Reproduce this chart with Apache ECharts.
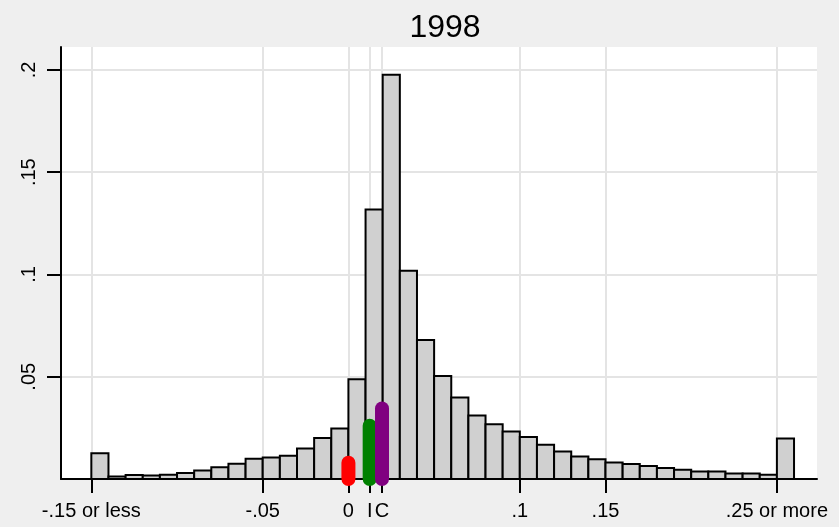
<!DOCTYPE html>
<html>
<head>
<meta charset="utf-8">
<title>1998</title>
<script src="https://cdn.jsdelivr.net/npm/echarts@6/dist/echarts.min.js"></script>
<style>
  html, body { margin: 0; padding: 0; background: #efefef; }
  #chart { width: 839px; height: 527px; }
</style>
</head>
<body>
<div id="chart"></div>
<script>
// histogram bins: lower edge of each bin, bin width, density
var binWidth = 0.01
var binLeft = [
  -0.15, -0.14, -0.13, -0.12, -0.11, -0.10, -0.09, -0.08, -0.07, -0.06,
  -0.05, -0.04, -0.03, -0.02, -0.01, 0.00, 0.01, 0.02, 0.03, 0.04,
  0.05, 0.06, 0.07, 0.08, 0.09, 0.10, 0.11, 0.12, 0.13, 0.14,
  0.15, 0.16, 0.17, 0.18, 0.19, 0.20, 0.21, 0.22, 0.23, 0.24, 0.25
]
var binHeight = [
  0.0126, 0.0012, 0.0019, 0.0017, 0.0021, 0.0029, 0.0042, 0.0057, 0.0075, 0.0099,
  0.0105, 0.0114, 0.0149, 0.0200, 0.0247, 0.0488, 0.1317, 0.1976, 0.1018, 0.0679,
  0.0504, 0.0398, 0.0310, 0.0268, 0.0232, 0.0205, 0.0167, 0.0135, 0.0110, 0.0097,
  0.0081, 0.0073, 0.0063, 0.0054, 0.0045, 0.0037, 0.0037, 0.0027, 0.0027, 0.0021, 0.0198
]

// coloured markers: 0, I, C
var markerX = [0, 0.0124, 0.0196]
var markerH = [0.008, 0.026, 0.0345]
var markerColor = ['#ff0000', '#008000', '#800080']

// axis ticks
var xTickValues = [-0.15, -0.05, 0, 0.0124, 0.0196, 0.1, 0.15, 0.25]
var xTickLabels = ['-.15 or less', '-.05', '0', 'I', 'C', '.1', '.15', '.25 or more']
var yTickValues = [0.05, 0.1, 0.15, 0.2]
var yTickLabels = ['.05', '.1', '.15', '.2']

var font = 'Liberation Sans, Arial, sans-serif'

function lookup (values, labels, v) {
  for (var i = 0; i < values.length; i++) {
    if (Math.abs(values[i] - v) < 1e-6) return labels[i]
  }
  return ''
}

var binData = binLeft.map(function (l, i) {
  return [l, l + binWidth, binHeight[i]]
})
var markerData = markerX.map(function (x, i) {
  return [x, markerH[i], i]
})

var chart = echarts.init(document.getElementById('chart'))
chart.setOption({
  backgroundColor: '#efefef',
  animation: false,
  title: {
    text: '1998',
    left: 440,
    top: 7,
    textAlign: 'center',
    textStyle: {
      color: '#000',
      fontFamily: font,
      fontSize: 32,
      fontWeight: 'normal'
    }
  },
  grid: {
    left: 61,
    right: 22,
    top: 47,
    bottom: 48,
    show: true,
    backgroundColor: '#fff',
    borderWidth: 0
  },
  xAxis: {
    type: 'value',
    min: -0.1677,
    max: 0.2734,
    axisLine: { show: true, onZero: false, lineStyle: { color: '#000', width: 2 } },
    axisTick: {
      show: true,
      length: 14,
      customValues: xTickValues,
      lineStyle: { color: '#000', width: 2 }
    },
    axisLabel: {
      customValues: xTickValues,
      margin: 22,
      color: '#000',
      fontFamily: font,
      fontSize: 20,
      formatter: function (v) { return lookup(xTickValues, xTickLabels, v) }
    },
    splitLine: { show: true, lineStyle: { color: '#e4e4e4', width: 2 } }
  },
  yAxis: {
    type: 'value',
    min: 0,
    max: 0.2112,
    axisLine: { show: true, onZero: false, lineStyle: { color: '#000', width: 2 } },
    axisTick: {
      show: true,
      length: 14,
      customValues: yTickValues,
      lineStyle: { color: '#000', width: 2 }
    },
    axisLabel: {
      customValues: yTickValues,
      rotate: 90,
      margin: 22,
      color: '#000',
      fontFamily: font,
      fontSize: 20,
      formatter: function (v) { return lookup(yTickValues, yTickLabels, v) }
    },
    splitLine: { show: true, lineStyle: { color: '#e4e4e4', width: 2 } }
  },
  series: [
    {
      type: 'custom',
      name: 'bins',
      z: 2,
      encode: { x: [0, 1], y: 2 },
      data: binData,
      renderItem: function (params, api) {
        var p0 = api.coord([api.value(0), api.value(2)])
        var p1 = api.coord([api.value(1), 0])
        return {
          type: 'rect',
          shape: { x: p0[0], y: p0[1], width: p1[0] - p0[0], height: p1[1] - p0[1] },
          style: { fill: '#d0d0d0', stroke: '#000', lineWidth: 2 }
        }
      }
    },
    {
      type: 'custom',
      name: 'markers',
      z: 5,
      clip: false,
      encode: { x: 0, y: 1 },
      data: markerData,
      renderItem: function (params, api) {
        var p0 = api.coord([api.value(0), 0])
        var p1 = api.coord([api.value(0), api.value(1)])
        return {
          type: 'line',
          shape: { x1: p0[0], y1: p0[1], x2: p1[0], y2: p1[1] },
          style: { stroke: markerColor[api.value(2)], lineWidth: 14, lineCap: 'round' }
        }
      }
    }
  ]
})
</script>
</body>
</html>
